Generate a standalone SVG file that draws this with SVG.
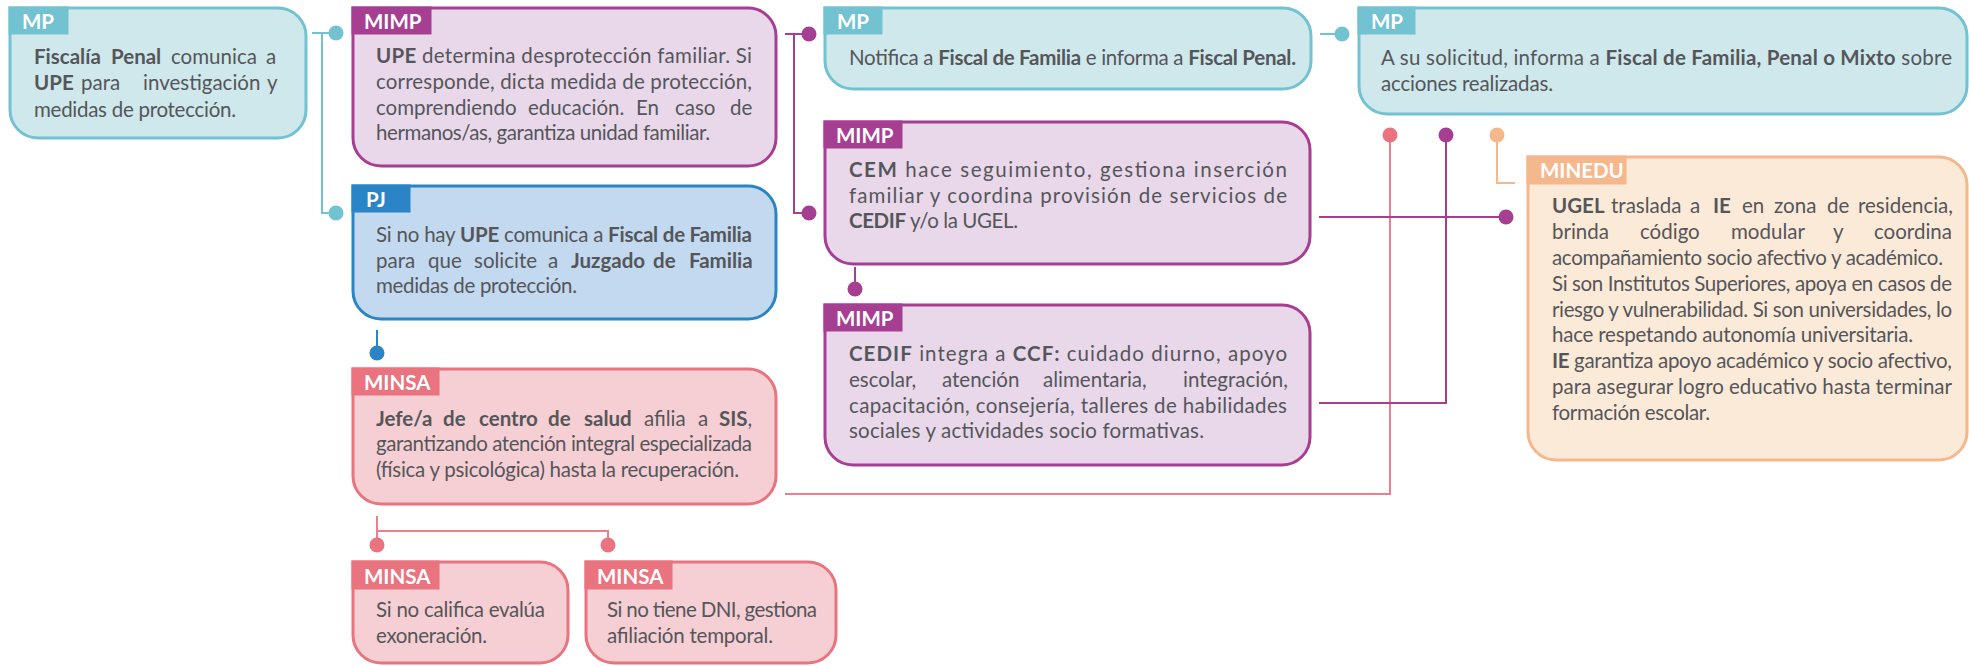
<svg xmlns="http://www.w3.org/2000/svg" width="1969" height="666" viewBox="0 0 1969 666">
<style>
.t{font-family:Lato,"Liberation Sans",sans-serif;font-size:20.5px;fill:#55565a}
.b{font-weight:bold}
.lab{font-family:Lato,"Liberation Sans",sans-serif;font-size:20.5px;font-weight:bold;fill:#ffffff}
.box{stroke-width:3}
.mp .box{fill:#cfe8ec;stroke:#72c2d1}.mp .tab{fill:#72c2d1}
.mimp .box{fill:#e9d8ea;stroke:#a63f92}.mimp .tab{fill:#a63f92}
.pj .box{fill:#c2d9ef;stroke:#2a84c5}.pj .tab{fill:#2a84c5}
.minsa .box{fill:#f6cfd4;stroke:#e9737e}.minsa .tab{fill:#e9737e}
.minedu .box{fill:#fcead8;stroke:#f5b88c}.minedu .tab{fill:#f5b88c}
.ln{fill:none;stroke-width:2}
.cT{stroke:#72c2d1}.cP{stroke:#a63f92}.cB{stroke:#2a84c5}.cR{stroke:#ec7f8a}.cO{stroke:#f5b88c}
.dT{fill:#72c2d1}.dP{fill:#a63f92}.dB{fill:#2a84c5}.dR{fill:#e9737e}.dO{fill:#f5b88c}
</style>

<g id="connectors">
<path class="ln cT" d="M312,33 H336 M322,33 V213 H336"/>
<circle class="dT" cx="336" cy="33" r="7.5"/><circle class="dT" cx="336" cy="213" r="7.5"/>
<path class="ln cP" d="M785,34 H809 M794,34 V213 H809"/>
<circle class="dP" cx="809" cy="34" r="7.5"/><circle class="dP" cx="809" cy="213" r="7.5"/>
<path class="ln cP" d="M855,267 V289"/><circle class="dP" cx="855" cy="289" r="7.5"/>
<path class="ln cB" d="M377,330 V353"/><circle class="dB" cx="377" cy="353" r="7.5"/>
<path class="ln cR" d="M377,516 V545 M377,531 H608 V545"/>
<circle class="dR" cx="377" cy="545" r="7.5"/><circle class="dR" cx="608" cy="545" r="7.5"/>
<path class="ln cR" d="M785,494 H1390 V135"/><circle class="dR" cx="1390" cy="135" r="7.5"/>
<path class="ln cP" d="M1319,403 H1446 V135"/><circle class="dP" cx="1446" cy="135" r="7.5"/>
<path class="ln cP" d="M1319,217 H1506"/><circle class="dP" cx="1506" cy="217" r="7.5"/>
<path class="ln cO" d="M1497,135 V183 H1515"/><circle class="dO" cx="1497" cy="135" r="7.5"/>
<path class="ln cT" d="M1320,34 H1342"/><circle class="dT" cx="1342" cy="34" r="7.5"/>
</g>

<g id="n-mp-fiscalia" class="mp">
<path class="box" d="M10,8 H278 A28,28 0 0 1 306,36 V110 A28,28 0 0 1 278,138 H38 A28,28 0 0 1 10,110 Z"/>
<rect class="tab" x="8.5" y="6.5" width="60" height="28"/>
<text class="lab" x="22" y="29">MP</text>
<text class="t" y="64"><tspan x="34" class="b">Fiscalía</tspan><tspan x="111" class="b">Penal</tspan><tspan x="171">comunica</tspan><tspan x="266">a</tspan></text>
<text class="t" y="90"><tspan x="34" class="b">UPE</tspan><tspan x="81">para</tspan><tspan x="143">investigación</tspan><tspan x="267">y</tspan></text>
<text class="t" x="34" y="117" textLength="202" lengthAdjust="spacing">medidas de protección.</text>
</g>

<g id="n-mimp-upe" class="mimp">
<path class="box" d="M353,8 H748 A28,28 0 0 1 776,36 V138 A28,28 0 0 1 748,166 H381 A28,28 0 0 1 353,138 Z"/>
<rect class="tab" x="351.5" y="6.5" width="80" height="28"/>
<text class="lab" x="364" y="29">MIMP</text>
<text class="t" x="376" y="63" textLength="376" lengthAdjust="spacing"><tspan class="b">UPE</tspan>  determina desprotección familiar. Si</text>
<text class="t" x="376" y="89" textLength="376" lengthAdjust="spacing">corresponde, dicta medida de protección,</text>
<text class="t" y="115"><tspan x="376">comprendiendo</tspan><tspan x="528">educación.</tspan><tspan x="636">En</tspan><tspan x="675">caso</tspan><tspan x="730">de</tspan></text>
<text class="t" x="376" y="140" textLength="334" lengthAdjust="spacing">hermanos/as, garantiza unidad familiar.</text>
</g>

<g id="n-pj" class="pj">
<path class="box" d="M353,186 H748 A28,28 0 0 1 776,214 V291 A28,28 0 0 1 748,319 H381 A28,28 0 0 1 353,291 Z"/>
<rect class="tab" x="351.5" y="184.5" width="59" height="28"/>
<text class="lab" x="366" y="207">PJ</text>
<text class="t" x="376" y="242" textLength="376" lengthAdjust="spacing">Si no hay <tspan class="b">UPE</tspan>  comunica a <tspan class="b">Fiscal de Familia</tspan></text>
<text class="t" y="268"><tspan x="376">para</tspan><tspan x="428">que</tspan><tspan x="474">solicite</tspan><tspan x="548">a</tspan><tspan x="571" class="b">Juzgado</tspan><tspan x="653" class="b">de</tspan><tspan x="689" class="b">Familia</tspan></text>
<text class="t" x="376" y="293" textLength="201" lengthAdjust="spacing">medidas de protección.</text>
</g>

<g id="n-minsa-jefe" class="minsa">
<path class="box" d="M353,369 H748 A28,28 0 0 1 776,397 V476 A28,28 0 0 1 748,504 H381 A28,28 0 0 1 353,476 Z"/>
<rect class="tab" x="351.5" y="367.5" width="88" height="28"/>
<text class="lab" x="364" y="390">MINSA</text>
<text class="t" y="426"><tspan x="376" class="b">Jefe/a</tspan><tspan x="443" class="b">de</tspan><tspan x="479" class="b">centro</tspan><tspan x="548" class="b">de</tspan><tspan x="584" class="b">salud</tspan><tspan x="644">afilia</tspan><tspan x="698">a</tspan><tspan x="719" class="b">SIS</tspan>,</text>
<text class="t" x="376" y="451" textLength="376" lengthAdjust="spacing">garantizando atención integral especializada</text>
<text class="t" x="376" y="477" textLength="363" lengthAdjust="spacing">(física y psicológica) hasta  la recuperación.</text>
</g>

<g id="n-minsa-exoneracion" class="minsa">
<path class="box" d="M353,562 H540 A28,28 0 0 1 568,590 V635 A28,28 0 0 1 540,663 H381 A28,28 0 0 1 353,635 Z"/>
<rect class="tab" x="351.5" y="560.5" width="88" height="29"/>
<text class="lab" x="364" y="584">MINSA</text>
<text class="t" x="376" y="617" textLength="169" lengthAdjust="spacing">Si no califica evalúa</text>
<text class="t" x="376" y="643" textLength="111" lengthAdjust="spacing">exoneración.</text>
</g>

<g id="n-minsa-dni" class="minsa">
<path class="box" d="M586,562 H808 A28,28 0 0 1 836,590 V635 A28,28 0 0 1 808,663 H614 A28,28 0 0 1 586,635 Z"/>
<rect class="tab" x="584.5" y="560.5" width="88" height="29"/>
<text class="lab" x="597" y="584">MINSA</text>
<text class="t" x="607" y="617" textLength="210" lengthAdjust="spacing">Si no tiene DNI, gestiona</text>
<text class="t" x="607" y="643" textLength="166" lengthAdjust="spacing">afiliación temporal.</text>
</g>

<g id="n-mp-notifica" class="mp">
<path class="box" d="M825,8 H1283 A28,28 0 0 1 1311,36 V61 A28,28 0 0 1 1283,89 H853 A28,28 0 0 1 825,61 Z"/>
<rect class="tab" x="823.5" y="6.5" width="59" height="28"/>
<text class="lab" x="837" y="29">MP</text>
<text class="t" x="849" y="65" textLength="447" lengthAdjust="spacing">Notifica a <tspan class="b">Fiscal de Familia</tspan> e informa a <tspan class="b">Fiscal Penal.</tspan></text>
</g>

<g id="n-mimp-cem" class="mimp">
<path class="box" d="M825,122 H1282 A28,28 0 0 1 1310,150 V236 A28,28 0 0 1 1282,264 H853 A28,28 0 0 1 825,236 Z"/>
<rect class="tab" x="823.5" y="120.5" width="79" height="28"/>
<text class="lab" x="836" y="143">MIMP</text>
<text class="t" x="849" y="177" textLength="438" lengthAdjust="spacing"><tspan class="b">CEM</tspan> hace seguimiento, gestiona inserción</text>
<text class="t" x="849" y="203" textLength="438" lengthAdjust="spacing">familiar y coordina provisión de servicios de</text>
<text class="t" x="849" y="228" textLength="169" lengthAdjust="spacing"><tspan class="b">CEDIF</tspan> y/o la UGEL.</text>
</g>

<g id="n-mimp-cedif" class="mimp">
<path class="box" d="M825,305 H1282 A28,28 0 0 1 1310,333 V437 A28,28 0 0 1 1282,465 H853 A28,28 0 0 1 825,437 Z"/>
<rect class="tab" x="823.5" y="303.5" width="79" height="28"/>
<text class="lab" x="836" y="326">MIMP</text>
<text class="t" x="849" y="361" textLength="438" lengthAdjust="spacing"><tspan class="b">CEDIF</tspan>  integra a <tspan class="b">CCF:</tspan> cuidado diurno, apoyo</text>
<text class="t" y="387"><tspan x="849">escolar,</tspan><tspan x="942">atención</tspan><tspan x="1043">alimentaria,</tspan><tspan x="1183">integración,</tspan></text>
<text class="t" x="849" y="413" textLength="438" lengthAdjust="spacing">capacitación, consejería, talleres de habilidades</text>
<text class="t" x="849" y="438" textLength="355" lengthAdjust="spacing">sociales y actividades socio formativas.</text>
</g>

<g id="n-mp-informa" class="mp">
<path class="box" d="M1359,8 H1939 A28,28 0 0 1 1967,36 V86 A28,28 0 0 1 1939,114 H1387 A28,28 0 0 1 1359,86 Z"/>
<rect class="tab" x="1357.5" y="6.5" width="58" height="28"/>
<text class="lab" x="1371" y="29">MP</text>
<text class="t" x="1381" y="65" textLength="571" lengthAdjust="spacing">A su solicitud, informa a <tspan class="b">Fiscal de Familia, Penal o Mixto</tspan> sobre</text>
<text class="t" x="1381" y="91" textLength="172" lengthAdjust="spacing">acciones realizadas.</text>
</g>

<g id="n-minedu" class="minedu">
<path class="box" d="M1528,157 H1939 A28,28 0 0 1 1967,185 V432 A28,28 0 0 1 1939,460 H1556 A28,28 0 0 1 1528,432 Z"/>
<rect class="tab" x="1526.5" y="155.5" width="100" height="29"/>
<text class="lab" x="1540" y="178">MINEDU</text>
<text class="t" y="213"><tspan x="1552" class="b">UGEL</tspan><tspan x="1611">traslada</tspan><tspan x="1690">a</tspan><tspan x="1713" class="b">IE</tspan><tspan x="1742">en</tspan><tspan x="1774">zona</tspan><tspan x="1827">de</tspan><tspan x="1858">residencia,</tspan></text>
<text class="t" y="239"><tspan x="1552">brinda</tspan><tspan x="1640">código</tspan><tspan x="1731">modular</tspan><tspan x="1833">y</tspan><tspan x="1874">coordina</tspan></text>
<text class="t" x="1552" y="265" textLength="391" lengthAdjust="spacing">acompañamiento socio afectivo y académico.</text>
<text class="t" x="1552" y="291" textLength="400" lengthAdjust="spacing">Si son Institutos Superiores, apoya en casos de</text>
<text class="t" x="1552" y="317" textLength="400" lengthAdjust="spacing">riesgo y vulnerabilidad. Si son universidades, lo</text>
<text class="t" x="1552" y="342" textLength="361" lengthAdjust="spacing">hace respetando autonomía universitaria.</text>
<text class="t" x="1552" y="368" textLength="400" lengthAdjust="spacing"><tspan class="b">IE</tspan> garantiza apoyo académico y socio afectivo,</text>
<text class="t" x="1552" y="394" textLength="400" lengthAdjust="spacing">para asegurar logro educativo hasta terminar</text>
<text class="t" x="1552" y="420" textLength="158" lengthAdjust="spacing">formación escolar.</text>
</g>
</svg>
